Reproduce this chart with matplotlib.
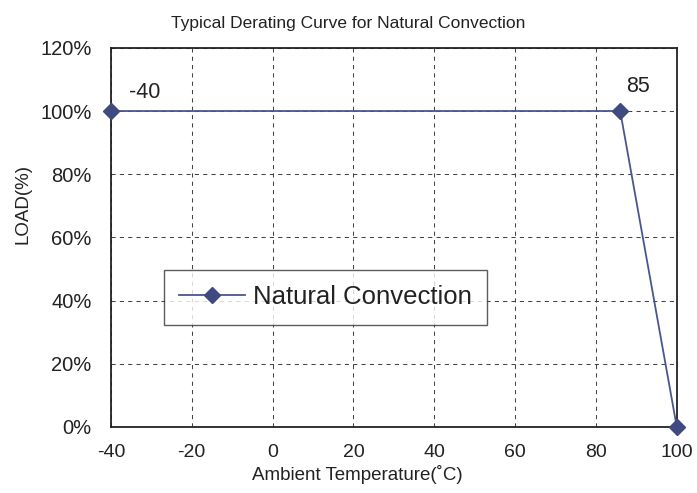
import numpy as np
import matplotlib.pyplot as plt
from matplotlib.ticker import PercentFormatter

plt.rcParams['font.family'] = ['Liberation Sans', 'DejaVu Sans']
plt.rcParams['axes.unicode_minus'] = False

# Data
temps = [-40, 86, 100]
loads = [100, 100, 0]
point_labels = ['-40', '85']
x_ticks = [-40, -20, 0, 20, 40, 60, 80, 100]
y_ticks = [0, 20, 40, 60, 80, 100, 120]

line_color = '#4b5590'
text_color = '#222222'

fig = plt.figure(figsize=(6.97, 4.93), dpi=100)
ax = fig.add_axes([0.159, 0.134, 0.812, 0.769])

ax.plot(temps, loads, color=line_color, linewidth=1.3, marker='D',
        markersize=8.5, markerfacecolor='#3f4a80', markeredgecolor='#3f4a80',
        label='Natural Convection', zorder=3, clip_on=False)

# Point labels
ax.text(temps[0] + 8.5, loads[0] + 2.5, point_labels[0], fontsize=15.5,
        ha='center', va='bottom', color=text_color)
ax.text(temps[1] + 4.3, loads[1] + 4.5, point_labels[1], fontsize=15.5,
        ha='center', va='bottom', color=text_color)

ax.set_xlim(-40, 100)
ax.set_ylim(0, 120)
ax.set_xticks(x_ticks)
ax.set_yticks(y_ticks)
ax.yaxis.set_major_formatter(PercentFormatter(decimals=0))
ax.tick_params(axis='y', length=0, labelsize=14.5, pad=14, colors=text_color)
ax.tick_params(axis='x', length=0, labelsize=14, pad=12, colors=text_color)

ax.grid(True, color='#444444', linestyle=(0, (4, 4)), linewidth=0.75)
ax.set_axisbelow(True)
for s in ax.spines.values():
    s.set_color('#222222')
    s.set_linewidth(1.3)

ax.set_title('Typical Derating Curve for Natural Convection', fontsize=12.5,
             pad=14, color=text_color, x=0.42)
ax.set_xlabel('Ambient Temperature(˚C)', fontsize=13.5, labelpad=3,
              color=text_color, x=0.435)
ax.set_ylabel('LOAD(%)', fontsize=13.5, labelpad=6, color=text_color, y=0.588)

leg = ax.legend(loc='center left', bbox_to_anchor=(0.094, 0.342), fontsize=18.5,
                frameon=True, fancybox=False, edgecolor='#333333',
                handlelength=2.55, borderpad=0.6, handletextpad=0.3,
                borderaxespad=0, labelcolor=text_color)
leg.get_frame().set_linewidth(1.0)

# stretch the legend frame a little on the right like the original
fig.canvas.draw()
frame = leg.get_frame()
frame.set_width(frame.get_width() + 5)

plt.savefig('out.png', dpi=100)
plt.close()
